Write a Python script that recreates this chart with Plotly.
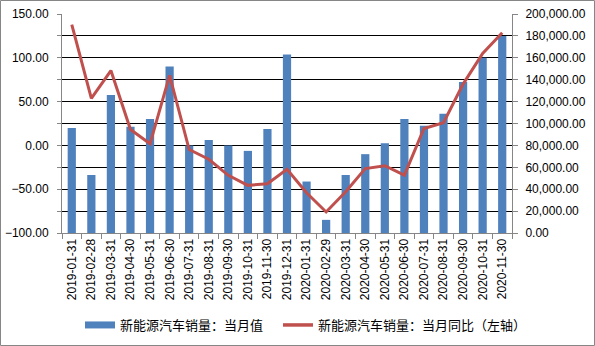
import plotly.graph_objects as go

cats = ["2019-01-31", "2019-02-28", "2019-03-31", "2019-04-30", "2019-05-31", "2019-06-30",
        "2019-07-31", "2019-08-31", "2019-09-30", "2019-10-31", "2019-11-30", "2019-12-31",
        "2020-01-31", "2020-02-29", "2020-03-31", "2020-04-30", "2020-05-31", "2020-06-30",
        "2020-07-31", "2020-08-31", "2020-09-30", "2020-10-31", "2020-11-30"]
sales = [96000, 53000, 126000, 97000, 104000, 152000, 80000, 85000, 80000, 75000, 95000, 163000,
         47000, 12000, 53000, 72000, 82000, 104000, 98000, 109000, 138000, 160000, 180000]
yoy = [138, 53.6, 85.4, 18.1, 1.8, 80, -4.7, -15.8, -34.2, -45.6, -43.7, -27.4,
       -54, -76, -53, -26.5, -23.2, -34, 19.3, 25.8, 70, 105, 128.5]

name_bar = "新能源汽车销量：当月值"
name_line = "新能源汽车销量：当月同比（左轴）"

BLUE = "#4F81BD"
RED = "#C0504D"
GRAY = "#868686"
FONT = "Liberation Sans, Arial, sans-serif"
CJK = "Noto Sans CJK SC, sans-serif"

fig = go.Figure()
fig.add_trace(go.Bar(x=cats, y=sales, marker=dict(color=BLUE, line=dict(width=0)),
                     name=name_bar, yaxis="y", showlegend=False))
fig.add_trace(go.Scatter(x=cats, y=yoy, mode="lines", line=dict(color=RED, width=3),
                         name=name_line, yaxis="y2", showlegend=False))
# legend entries
fig.add_trace(go.Scatter(x=[None], y=[None], mode="lines", line=dict(color=BLUE, width=7),
                         name=name_bar, yaxis="y2", legend="legend"))
fig.add_trace(go.Scatter(x=[None], y=[None], mode="lines", line=dict(color=RED, width=3.5),
                         name=name_line, yaxis="y2", legend="legend2"))

L, R, T, B = 62, 83, 14, 113
W, H = 595, 346
pw, ph = W - L - R, H - T - B

leg_common = dict(orientation="h", xanchor="left", y=(233 - 325) / ph, yanchor="middle",
                  font=dict(family=CJK, size=13, color="black"), itemwidth=30,
                  bgcolor="rgba(0,0,0,0)")

fig.update_layout(
    width=W, height=H,
    margin=dict(l=L, r=R, t=T, b=B, autoexpand=False),
    paper_bgcolor="white", plot_bgcolor="white",
    bargap=0.58,
    font=dict(family=FONT, size=12, color="black"),
    xaxis=dict(type="category", tickangle=-90, tickson="boundaries", ticks="outside",
               ticklen=5, tickcolor=GRAY, showline=True, linecolor=GRAY, linewidth=1,
               showgrid=False, automargin=False, tickfont=dict(size=12, family=FONT)),
    yaxis=dict(side="right", range=[0, 200000], dtick=20000, tickformat=",.2f",
               showgrid=True, gridcolor="black", gridwidth=1, zeroline=False,
               showline=True, linecolor=GRAY, ticks="outside", ticklen=5, tickcolor=GRAY,
               automargin=False, ticklabelstandoff=5,
               tickfont=dict(size=12, family=FONT)),
    yaxis2=dict(side="left", overlaying="y", range=[-100, 150], dtick=50, tickformat=".2f",
                showgrid=False, zeroline=False, showline=True, linecolor=GRAY,
                ticks="outside", ticklen=4, tickcolor=GRAY, automargin=False,
                ticklabelstandoff=6,
                minor=dict(dtick=25, ticks="outside", ticklen=4, tickcolor=GRAY, showgrid=False),
                tickfont=dict(size=12, family=FONT)),
    legend=dict(x=(80 - L) / pw, **leg_common),
    legend2=dict(x=(278 - L) / pw, **leg_common),
    shapes=[dict(type="rect", xref="paper", yref="paper",
                 x0=(0.5 - L) / pw, x1=(W - 0.5 - L) / pw,
                 y0=(H - B - (H - 0.5)) / ph, y1=(H - B - 0.5) / ph,
                 line=dict(color=GRAY, width=1), fillcolor="rgba(0,0,0,0)", layer="below")],
)

fig.write_html("out.html")
